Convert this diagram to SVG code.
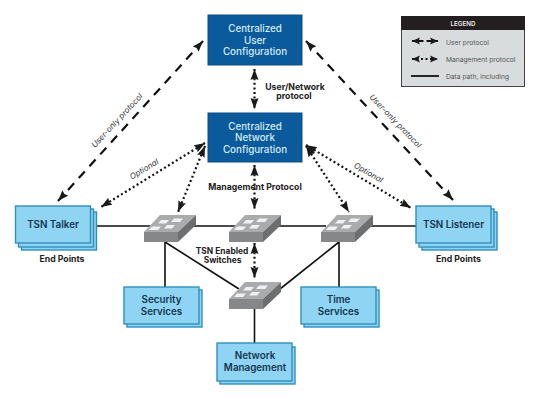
<svg xmlns="http://www.w3.org/2000/svg" width="540" height="401" viewBox="0 0 540 401">
<style>
text{font-family:Inter,"Liberation Sans",sans-serif;text-anchor:middle}
.c{fill:#d5ecf9;font-size:9.8px;font-weight:500}
.n{fill:#14354f;font-size:9.8px;font-weight:600}
.b{fill:#222;font-size:8.7px;font-weight:700}
.t{font-size:8.4px}
.i{fill:#333;font-size:8px;font-style:italic}
.l{fill:#555;font-size:6.7px;text-anchor:start}
.core{fill:#0b5a9c;stroke:#0a4f88;stroke-width:1}
.card{fill:#8fd4f3;stroke:#2f8fbd;stroke-width:1.4}
.data{stroke:#111;stroke-width:1.6;fill:none}
.user{stroke:#111;stroke-width:2.2;fill:none;stroke-dasharray:9 7;marker-start:url(#h);marker-end:url(#h)}
.mgmt{stroke:#111;stroke-width:2.2;fill:none;stroke-dasharray:2 2.6;marker-start:url(#h);marker-end:url(#h)}
.top{fill:#a9abad}.front{fill:#868789}.side{fill:#6d6e70}.port{fill:#f1f1f1}
</style>
<defs>
<marker id="h" markerUnits="userSpaceOnUse" markerWidth="12" markerHeight="10" refX="11" refY="4.500" orient="auto-start-reverse">
<path d="M0 0.500L11 4.500L0 8.500L1.500 4.500Z" fill="#1a1a1a"/>
</marker>
<marker id="lh" markerUnits="userSpaceOnUse" markerWidth="9" markerHeight="8" refX="8" refY="4" orient="auto-start-reverse"><path d="M0 0.500L8 4L0 7.500L1.500 4Z" fill="#1a1a1a"/></marker>
<g id="sw">
<path class="top" d="M16 0H52L34 17H0Z"/>
<path class="front" d="M0 17H34V27H0Z"/>
<path class="side" d="M34 17L52 0V10L34 27Z"/>
<path class="port" d="M17 5H25L22 8.500H14ZM30 3.500H39L36 7H27ZM8 11.500H17L14 15H5ZM23 10H31L28 13.500H20Z"/>
</g>
</defs>
<rect width="540" height="401" fill="#fff"/>
<g id="connectors">
<path class="data" d="M91 226H150M190 226H236M276 226H326M366 226H416M165 242V287M165 242L239 289M339 242L280 289M339 242V287M254.500 308V343"/>
<path class="user" d="M203 41L58 201"/>
<path class="user" d="M306 41L453 200"/>
<path class="mgmt" d="M205 143L101 207"/>
<path class="mgmt" d="M205 146L178 212"/>
<path class="mgmt" d="M306 146L349 212"/>
<path class="mgmt" d="M306 145L411 208"/>
<path class="mgmt" d="M254.500 69V109"/>
<path class="mgmt" d="M254.500 165V209"/>
<path class="mgmt" d="M254.500 243V278"/>
</g>
<g id="user-config"><rect class="core" x="208" y="15" width="94" height="50"/><text class="c" x="255" y="32">Centralized</text><text class="c" x="255" y="43.500">User</text><text class="c" x="255" y="54.500">Configuration</text></g>
<g id="network-config"><rect class="core" x="208" y="113" width="94" height="49"/><text class="c" x="255" y="130">Centralized</text><text class="c" x="255" y="141">Network</text><text class="c" x="255" y="152.500">Configuration</text></g>
<g id="tsn-talker"><rect class="card" x="21.500" y="212" width="75" height="38"/><rect class="card" x="18.500" y="209" width="75" height="38"/><rect class="card" x="15.500" y="206" width="75" height="37"/><text class="n" x="53" y="228">TSN Talker</text></g>
<g id="tsn-listener"><rect class="card" x="422" y="212" width="75" height="38"/><rect class="card" x="419" y="209" width="75" height="38"/><rect class="card" x="416" y="206" width="75" height="37"/><text class="n" x="453.500" y="228">TSN Listener</text></g>
<g id="security-services"><rect class="card" x="127" y="290" width="75" height="37"/><rect class="card" x="124" y="287" width="75" height="37"/><text class="n" x="161.500" y="303">Security</text><text class="n" x="161.500" y="314.500">Services</text></g>
<g id="time-services"><rect class="card" x="304" y="290" width="75" height="37"/><rect class="card" x="301" y="287" width="75" height="37"/><text class="n" x="338.500" y="303">Time</text><text class="n" x="338.500" y="314.500">Services</text></g>
<g id="network-management"><rect class="card" x="220" y="347" width="75" height="37"/><rect class="card" x="217" y="343" width="75" height="38"/><text class="n" x="255" y="359">Network</text><text class="n" x="255" y="370.500">Management</text></g>
<g id="switch-1"><use href="#sw" x="144" y="215"/></g>
<g id="switch-2"><use href="#sw" x="229" y="215"/></g>
<g id="switch-3"><use href="#sw" x="321" y="215"/></g>
<g id="switch-4"><use href="#sw" x="229" y="282"/></g>
<g id="labels">
<text class="b" x="295" y="90">User/Network</text><text class="b" x="294" y="99">protocol</text>
<text class="b" x="255" y="190">Management Protocol</text>
<text class="b t" x="222" y="254">TSN Enabled</text><text class="b t" x="222.500" y="263">Switches</text>
<text class="b" x="62" y="262">End Points</text><text class="b" x="458.500" y="262">End Points</text>
<text class="i" transform="translate(119 122.500) rotate(-47)">User-only protocol</text>
<text class="i" transform="translate(393.500 123) rotate(46)">User-only protocol</text>
<text class="i" transform="translate(145.500 171.500) rotate(-31)">Optional</text>
<text class="i" transform="translate(367 175) rotate(30)">Optional</text>
</g>
<g id="legend">
<rect x="401.500" y="16.500" width="123" height="70" fill="#d9dcdd" stroke="#444"/>
<rect x="401" y="16" width="124" height="14" fill="#231f20"/>
<text x="463" y="26" fill="#eee" font-size="6.200" font-weight="600">LEGEND</text>
<path d="M412 41H438" stroke="#111" stroke-width="1.800" stroke-dasharray="11.500 3" marker-start="url(#lh)" marker-end="url(#lh)"/>
<path d="M412 59H438" stroke="#111" stroke-width="1.800" stroke-dasharray="2 2.500" marker-start="url(#lh)" marker-end="url(#lh)"/>
<path d="M411 76H439" stroke="#111" stroke-width="1.800"/>
<text class="l" x="446" y="44.500">User protocol</text>
<text class="l" x="446" y="61.500">Management protocol</text>
<text class="l" x="446" y="78.500">Data path, including</text>
</g>
</svg>
